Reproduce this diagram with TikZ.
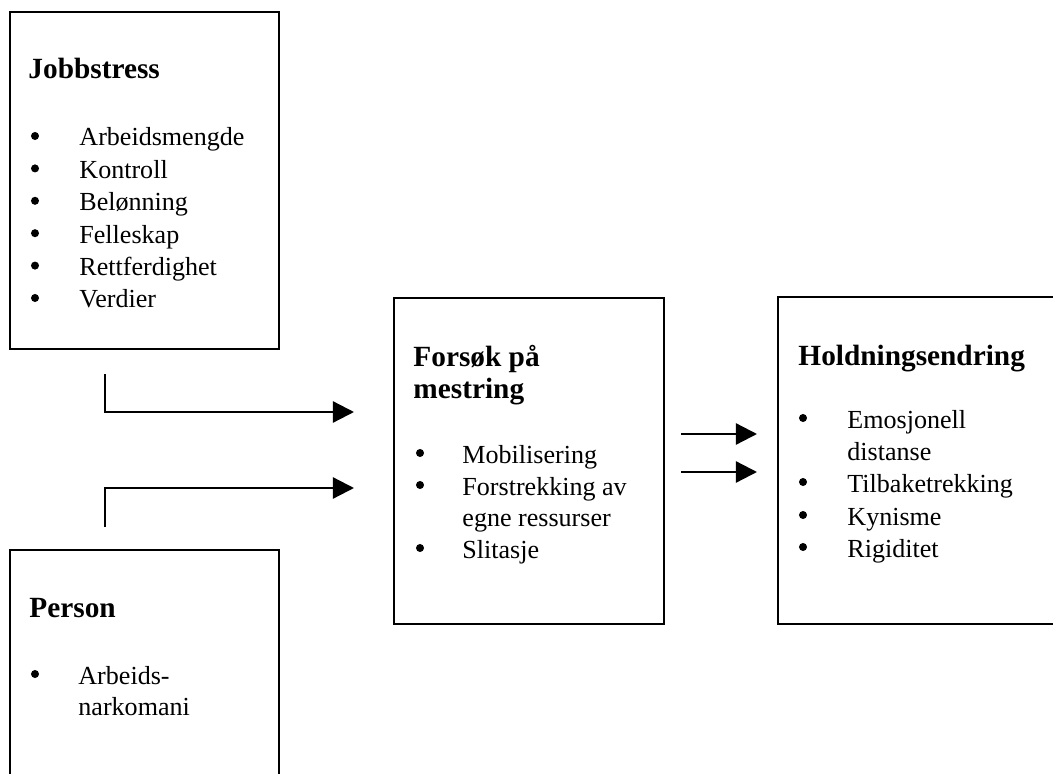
\documentclass[tikz,border=0pt]{standalone}
\usepackage{fontspec}
\setmainfont{Liberation Serif}
\usetikzlibrary{arrows.meta}
\begin{document}
\begin{tikzpicture}[x=0.4605pt,y=-0.4605pt,
  box/.style={draw, line width=0.9pt, inner sep=0pt, anchor=north west},
  title/.style={anchor=base west, inner sep=0pt, font=\fontsize{13.5}{16}\selectfont\bfseries},
  item/.style={anchor=base west, inner sep=0pt, font=\fontsize{12}{14}\selectfont},
  bul/.style={circle, fill, inner sep=0pt, minimum size=3.7pt},
  conn/.style={line width=1.05pt, -{Triangle[length=9.7pt,width=9.7pt]}}]
\useasboundingbox (0,0) rectangle (1053,774);
\clip (0,0) rectangle (1053,774);
\fill[white] (0,0) rectangle (1053,774);

% boxes
\node[box, minimum width={269*0.4605pt}, minimum height={337*0.4605pt}] (job) at (9,11) {};
\node[box, minimum width={269*0.4605pt}, minimum height={300*0.4605pt}] (person) at (9,549) {};
\node[box, minimum width={270*0.4605pt}, minimum height={326*0.4605pt}] (mestring) at (393,297) {};
\node[box, minimum width={300*0.4605pt}, minimum height={327*0.4605pt}] (holdning) at (777,296) {};

% Jobbstress
\node[title] (jt) at (28,79) {Jobbstress};
\foreach \t [count=\i from 0] in {Arbeidsmengde,Kontroll,Belønning,Felleskap,Rettferdighet,Verdier}{
  \node[bul] (jb\i) at (35,136+32.4*\i) {};
  \node[item] (ji\i) at (79,146+32.4*\i) {\t};
}

% Person
\node[title] (pt) at (29,617) {Person};
\node[bul] (pb0) at (35,674) {};
\node[item] (pi0) at (78,684) {Arbeids-};
\node[item] (pi1) at (78,715) {narkomani};

% Forsok paa mestring
\node[title] (mt0) at (413,366) {Forsøk på};
\node[title] (mt1) at (413,398) {mestring};
\node[bul] (mb0) at (420,453) {};
\node[item] (mi0) at (462,463) {Mobilisering};
\node[bul] (mb1) at (420,485) {};
\node[item] (mi1) at (462,495) {Forstrekking av};
\node[item] (mi2) at (462,526) {egne ressurser};
\node[bul] (mb2) at (420,548) {};
\node[item] (mi3) at (462,558) {Slitasje};

% Holdningsendring
\node[title] (ht) at (798,365) {Holdningsendring};
\node[bul] (hb0) at (803,418) {};
\node[item] (hi0) at (847,428) {Emosjonell};
\node[item] (hi1) at (847,460) {distanse};
\node[bul] (hb1) at (803,482) {};
\node[item] (hi2) at (847,492) {Tilbaketrekking};
\node[bul] (hb2) at (803,515) {};
\node[item] (hi3) at (847,525) {Kynisme};
\node[bul] (hb3) at (803,547) {};
\node[item] (hi4) at (847,557) {Rigiditet};

% connectors
\coordinate (s1) at (105,374);
\coordinate (e1) at (354,412);
\coordinate (s2) at (105,527);
\coordinate (e2) at (354,488);
\coordinate (s3) at (681,434);
\coordinate (e3) at (757,434);
\coordinate (s4) at (681,472);
\coordinate (e4) at (757,472);
\draw[conn] (s1) |- (e1);
\draw[conn] (s2) |- (e2);
\draw[conn] (s3) -- (e3);
\draw[conn] (s4) -- (e4);
\end{tikzpicture}
\end{document}
